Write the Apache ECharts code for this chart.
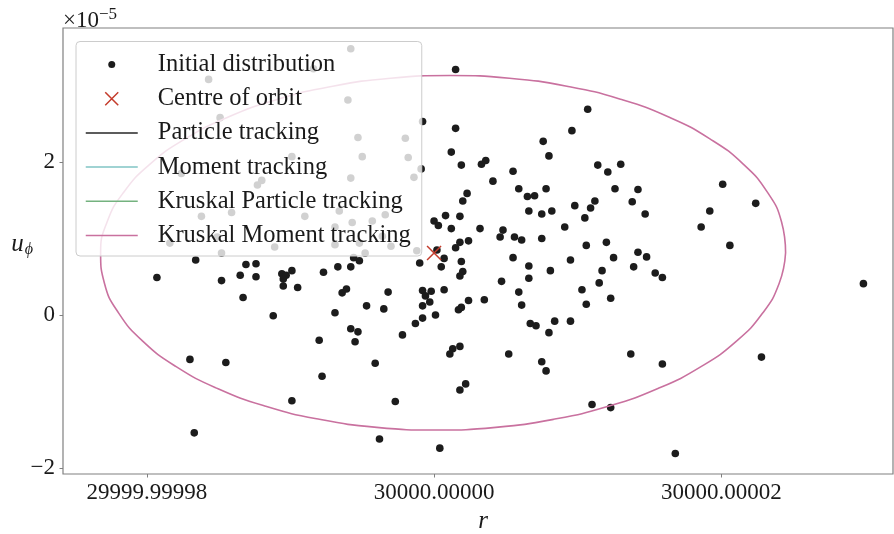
<!DOCTYPE html>
<html>
<head>
<meta charset="utf-8">
<script src="https://cdn.jsdelivr.net/npm/echarts@6/dist/echarts.min.js"></script>
<style>
  html, body { margin: 0; padding: 0; background: #ffffff; }
  #chart { width: 894px; height: 534px; }
</style>
</head>
<body>
<div id="chart"></div>
<script>
// Radial coordinate r is stored as an offset from R0, in units of 1e-5.
// Azimuthal velocity u_phi is stored in units of 1e-5.
const R0 = 30000;

// Initial particle distribution
const rInit = [
  0.15, 1.07, -0.08, 0.15, 0.96, 0.76, 0.12, 0.80, 0.19, 0.33, 0.36, 1.14, 1.30, -0.09, 1.21, 0.55,
  0.41, 1.26, 0.59, 0.78, 0.23, 0.65, 0.70, 0.20, 1.12, 0.98, 1.09, 0.66, 0.75, 0.82, 0.08, 0.18,
  0.00, 0.03, 1.05, 0.91, 0.12, 0.32, 0.48, 0.46, 0.56, 0.61, 0.75, 0.24, 0.18, 0.15, 1.06, 1.20,
  1.42, 1.38, 1.47, 2.01, 2.24, 1.92, 1.86, 2.06, 1.42,
  -1.66, -1.93, -1.31, -1.24, -1.35, -1.48, -1.24, -1.06, -1.03, -0.99, -1.05, -1.05, -0.95, -0.77,
  -0.67, -0.64, -1.33, -1.12, -0.69, -0.80, -1.70, -1.45, -0.78, -0.99, -1.67,
  -0.58, -0.52, -0.10, 0.07, 0.05, 0.02, 0.19, 0.20, 0.18, 0.55, 0.66, 0.66, 0.47, 0.81, 0.95, 1.17,
  1.15, 1.25, 1.03, 1.23, 1.06, -0.61, -0.32, -0.08, -0.02, -0.06, -0.03, -0.08, 0.07, 0.24, 0.35,
  0.59, 0.61, -0.47, -0.35, 0.17, 0.19, -0.08, 0.01, -0.13, 0.67, 0.71, 0.84, 0.95, 0.80, -0.58,
  -0.53, -0.55, -0.22, 0.13, 0.11, 0.18, 0.52, -0.41, 0.75, 0.78, 0.22, 0.18, -0.27, 1.10, 1.23,
  -0.38, 0.04, 1.48, 1.39, 1.54, 1.59, 2.99, 1.37, 1.59, 2.28, 1.68,
  -0.58, -1.57, -0.84, -0.60, -1.49, -0.53, -0.20, -0.99, -0.50, -0.18, -1.76, -0.58, -0.14, -1.20,
  -1.23, -1.41, -1.62, -0.90, -0.66, -0.34, -0.57, -0.43, -0.69, -0.36, -1.51, -1.84, -1.11, -0.69,
  -0.52, -0.30, -0.12, -0.48, -1.48, -0.56
];
const uInit = [
  3.21, 2.69, 2.53, 2.44, 2.41, 2.27, 2.13, 2.08, 1.96, 1.97, 2.02, 1.96, 1.97, 1.91, 1.87, 1.88,
  1.75, 1.65, 1.65, 1.65, 1.59, 1.55, 1.56, 1.49, 1.49, 1.43, 1.40, 1.36, 1.32, 1.36, 1.30, 1.29,
  1.23, 1.17, 1.27, 1.15, 1.13, 1.13, 1.11, 1.02, 1.02, 0.98, 1.00, 0.97, 0.95, 0.88, 0.91, 0.95,
  1.64, 1.48, 1.32, 1.71, 1.46, 1.36, 1.15, 0.91, 0.82,
  0.72, 0.49, 0.66, 0.67, 0.52, 0.45, 0.50, 0.54, 0.52, 0.58, 0.47, 0.38, 0.36, 0.56,
  0.63, 0.29, 0.23, -0.01, 0.03, -0.33, -0.58, -0.62, -0.80, -1.12, -1.54,
  0.63, 0.71, 0.68, 0.74, 0.63, 0.85, 0.70, 0.57, 0.51, 0.75, 0.64, 0.48, 0.44, 0.58, 0.72, 0.58,
  0.42, 0.75, 0.33, 0.22, 0.14, 0.34, 0.30, 0.32, 0.31, 0.25, 0.17, 0.12, 0.33, 0.19, 0.20,
  0.30, 0.13, 0.12, 0.08, 0.07, 0.10, -0.04, 0.00, -0.11, -0.11, -0.14, -0.08, -0.08, -0.23, -0.18,
  -0.22, -0.35, -0.26, -0.44, -0.51, -0.41, -0.51, -0.63, -0.61, -0.73, -0.90, -0.98, -1.13, -1.17, -1.21,
  -1.62, -1.74, 0.76, 0.63, 0.55, 0.49, 0.41, -0.51, -0.64, -0.55, -1.81,
  3.48, 3.08, 3.22, 2.81, 2.58, 2.32, 2.31, 2.07, 2.07, 2.06, 1.85, 1.79, 1.80, 1.76,
  1.70, 1.34, 1.29, 1.29, 1.36, 1.31, 1.21, 1.23, 1.15, 1.03, 1.02, 0.94, 0.89, 0.92,
  0.94, 0.90, 0.84, 0.81, 0.81, 0.75
];

// Centre of the orbit
const rCentre = [0.00];
const uCentre = [0.81];

// Tracked orbit (Kruskal moment tracking)
const rOrbit = [
  2.448, 2.420, 2.321, 2.153, 1.921, 1.634, 1.298, 0.925, 0.525, 0.112, -0.303, -0.707,
  -1.087, -1.433, -1.733, -1.978, -2.161, -2.277, -2.322, -2.295, -2.195, -2.027, -1.796, -1.508,
  -1.172, -0.799, -0.399, 0.014, 0.429, 0.833, 1.213, 1.559, 1.859, 2.104, 2.287, 2.403, 2.448
];
const uOrbit = [
  0.814, 1.216, 1.606, 1.973, 2.303, 2.589, 2.821, 2.991, 3.096, 3.131, 3.096, 2.991,
  2.821, 2.589, 2.303, 1.973, 1.606, 1.216, 0.814, 0.412, 0.022, -0.345, -0.675, -0.961,
  -1.193, -1.363, -1.468, -1.503, -1.468, -1.363, -1.193, -0.961, -0.675, -0.345, 0.022, 0.412, 0.814
];

// Axis ticks
const xTickValues = [-2, 0, 2];
const xTickLabels = ['29999.99998', '30000.00000', '30000.00002'];
const yTickValues = [-2, 0, 2];
const yTickLabels = ['\u22122', '0', '2'];

const zip = (a, b) => a.map((v, i) => [v, b[i]]);

const serif = "'Liberation Serif', 'Times New Roman', serif";
const ink = '#1a1a1a';
const spine = '#808080';
const crossRed = '#c43c2c';
const colParticle = '#262626';
const colMoment = '#80c4c4';
const colKParticle = '#74b27f';
const colKMoment = '#c9719f';

// Legend glyphs: invisible corner moves fix the bounding box to the icon cell
const dotIcon = 'path://M0,0M52,14M22.5,7A3.5,3.5,0,1,0,29.5,7A3.5,3.5,0,1,0,22.5,7Z';
const crossIcon = 'path://M0,0M52,14M19.5,0.5L32.5,13.5M32.5,0.5L19.5,13.5';
const lineIcon = 'path://M0,0M52,14M0,6.25L52,6.25L52,7.75L0,7.75Z';

const chart = echarts.init(document.getElementById('chart'), null, { renderer: 'canvas' });

chart.setOption({
  animation: false,
  backgroundColor: '#ffffff',
  textStyle: { fontFamily: serif },
  grid: {
    left: 63, right: 1, top: 28, bottom: 60,
    outerBoundsMode: 'none',
    containLabel: false,
    show: true, borderColor: spine, borderWidth: 1.2, backgroundColor: 'transparent'
  },
  xAxis: {
    type: 'value',
    min: -2.584, max: 3.196,
    axisLine: { show: false, onZero: false },
    splitLine: { show: false },
    axisTick: { show: true, customValues: xTickValues, length: 3.5, lineStyle: { color: spine, width: 1 } },
    axisLabel: {
      customValues: xTickValues,
      formatter: v => xTickLabels[xTickValues.indexOf(v)],
      fontFamily: serif, fontSize: 23, color: ink, margin: 7.5
    },
    name: 'r',
    nameLocation: 'middle',
    nameGap: 35,
    nameMoveOverlap: false,
    nameTextStyle: { fontFamily: serif, fontStyle: 'italic', fontSize: 25, color: ink, padding: [0, 0, 0, 10] }
  },
  yAxis: {
    type: 'value',
    min: -2.078, max: 3.752,
    axisLine: { show: false, onZero: false },
    splitLine: { show: false },
    axisTick: { show: true, customValues: yTickValues, length: 3.5, lineStyle: { color: spine, width: 1 } },
    axisLabel: {
      customValues: yTickValues,
      formatter: v => yTickLabels[yTickValues.indexOf(v)],
      fontFamily: serif, fontSize: 23, color: ink, margin: 8, padding: [3, 0, 0, 0]
    },
    name: '{u|u}{p|\u03d5}',
    nameLocation: 'middle',
    nameRotate: 0,
    nameGap: 30,
    nameMoveOverlap: false,
    nameTextStyle: {
      padding: [0, 0, 14, 0],
      rich: {
        u: { fontFamily: serif, fontStyle: 'italic', fontSize: 25, color: ink },
        p: { fontFamily: serif, fontStyle: 'italic', fontSize: 16, color: ink, padding: [12, 0, 0, 1] }
      }
    }
  },
  graphic: [{
    type: 'text',
    left: 63, top: 6,
    z: 20,
    style: {
      text: '{a|\u00d710}{b|\u22125}',
      rich: {
        a: { fontFamily: serif, fontSize: 23, fill: ink },
        b: { fontFamily: serif, fontSize: 17, fill: ink, padding: [0, 0, 12, 0] }
      }
    }
  }],
  legend: {
    orient: 'vertical',
    left: 76, top: 41.5,
    padding: [10.5, 9, 8, 9],
    itemWidth: 52, itemHeight: 14, itemGap: 9.2,
    backgroundColor: 'rgba(255,255,255,0.8)',
    borderColor: '#cccccc', borderWidth: 1, borderRadius: 4,
    selectedMode: false,
    z: 10,
    textStyle: {
      fontFamily: serif, fontSize: 24.5, lineHeight: 24, color: ink,
      padding: [0, 0, 0, 15], width: 255
    },
    data: [
      { name: 'Initial distribution', icon: dotIcon },
      { name: 'Centre of orbit', icon: crossIcon,
        itemStyle: { color: 'transparent', borderColor: crossRed, borderWidth: 1.5 } },
      { name: 'Particle tracking', icon: lineIcon, itemStyle: { color: colParticle, borderWidth: 0 } },
      { name: 'Moment tracking', icon: lineIcon, itemStyle: { color: colMoment, borderWidth: 0 } },
      { name: 'Kruskal Particle tracking', icon: lineIcon, itemStyle: { color: colKParticle, borderWidth: 0 } },
      { name: 'Kruskal Moment tracking', icon: lineIcon, itemStyle: { color: colKMoment, borderWidth: 0 } }
    ]
  },
  series: [
    {
      name: 'Initial distribution',
      type: 'scatter',
      data: zip(rInit, uInit),
      symbol: 'circle',
      symbolSize: 7.6,
      itemStyle: { color: '#1c1c1c', opacity: 1 },
      z: 3
    },
    {
      name: 'Centre of orbit',
      type: 'scatter',
      data: zip(rCentre, uCentre),
      symbol: 'path://M0,0L10,10M10,0L0,10',
      symbolSize: 14,
      itemStyle: { color: 'transparent', borderColor: crossRed, borderWidth: 1.5, opacity: 1 },
      z: 5
    },
    { name: 'Particle tracking', type: 'line', data: [], symbol: 'none',
      itemStyle: { color: colParticle }, lineStyle: { color: colParticle, width: 1.5 } },
    { name: 'Moment tracking', type: 'line', data: [], symbol: 'none',
      itemStyle: { color: colMoment }, lineStyle: { color: colMoment, width: 1.5 } },
    { name: 'Kruskal Particle tracking', type: 'line', data: [], symbol: 'none',
      itemStyle: { color: colKParticle }, lineStyle: { color: colKParticle, width: 1.5 } },
    {
      name: 'Kruskal Moment tracking',
      type: 'line',
      data: zip(rOrbit, uOrbit),
      symbol: 'none',
      smooth: 0.5,
      itemStyle: { color: colKMoment },
      lineStyle: { color: colKMoment, width: 1.6 },
      z: 4
    }
  ]
});
</script>
</body>
</html>
